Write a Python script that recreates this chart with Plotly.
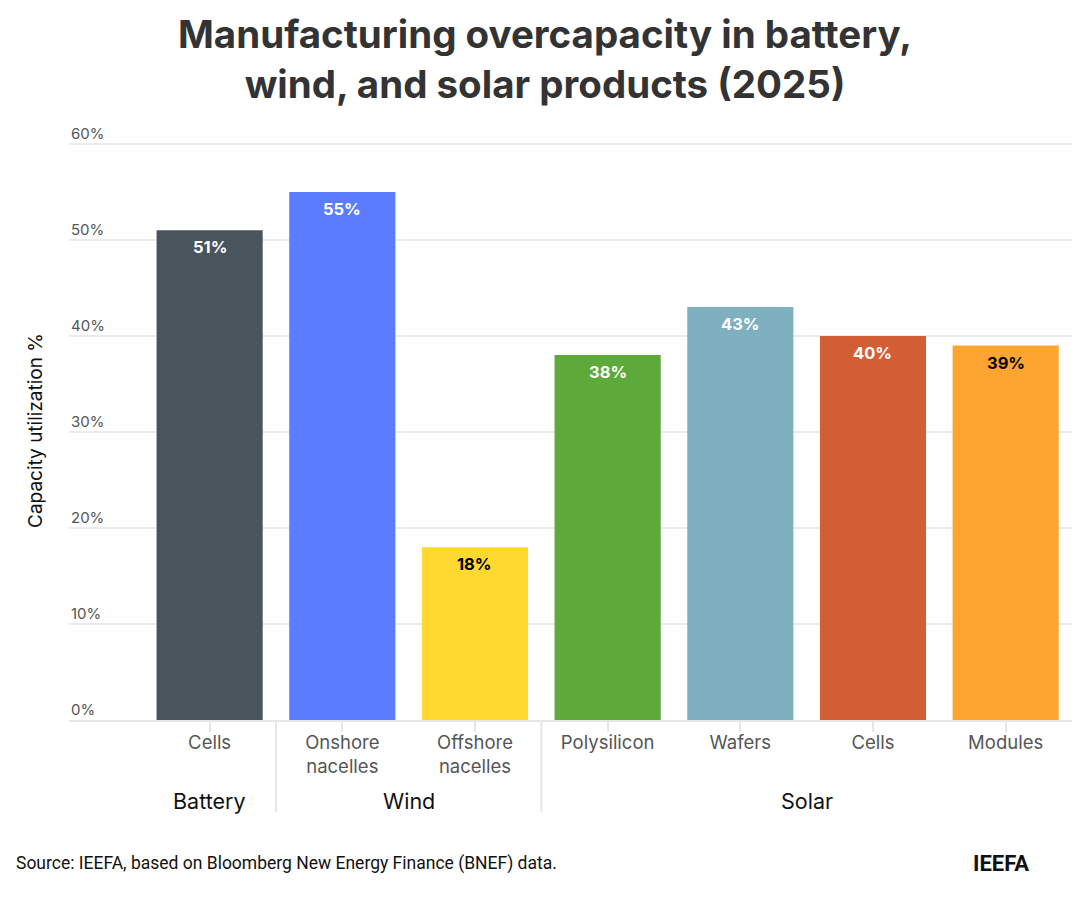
import plotly.graph_objects as go

categories = ["Cells", "Onshore<br>nacelles", "Offshore<br>nacelles", "Polysilicon", "Wafers", "Cells", "Modules"]
groups = ["Battery", "Wind", "Wind", "Solar", "Solar", "Solar", "Solar"]
values = [51, 55, 18, 38, 43, 40, 39]
colors = ["#4a545c", "#5b7cfe", "#ffd830", "#5da93a", "#7fb0c0", "#d15e35", "#fea531"]
text_colors = ["white", "white", "black", "white", "white", "white", "black"]
y_ticks = [0, 10, 20, 30, 40, 50, 60]

xpos = list(range(len(categories)))

TOP = 141
PLOT_H = 720 - TOP  # pixel height of plot area
def py(pixel_y):
    """convert page pixel y into paper fraction"""
    return (720 - pixel_y) / PLOT_H
def px(pixel_x):
    return (pixel_x - 69) / 1003

fig = go.Figure()
fig.add_trace(go.Bar(
    x=xpos, y=values, width=0.8,
    marker=dict(color=colors, line=dict(width=0)),
    hoverinfo="skip",
))

for i, v in enumerate(values):
    fig.add_annotation(x=xpos[i], y=v, xref="x", yref="y", text=f"<b>{v}%</b>",
                       showarrow=False, yanchor="middle", yshift=-17,
                       font=dict(family="Inter", size=16.5, color=text_colors[i]))

# y tick labels sitting above their gridlines
for t in y_ticks:
    fig.add_annotation(x=0, y=t, xref="paper", yref="y", text=f"{t}%",
                       showarrow=False, xanchor="left", yanchor="bottom", yshift=-1,
                       font=dict(family="Inter", size=15, color="#555555"))

fig.update_layout(
    width=1090, height=903,
    margin=dict(l=69, r=18, t=TOP, b=183),
    plot_bgcolor="white", paper_bgcolor="white",
    showlegend=False, bargap=0.2,
    font=dict(family="Inter"),
)

fig.add_annotation(xref="paper", yref="paper", x=px(545), y=py(59),
                   text="<b>Manufacturing overcapacity in battery,<br>wind, and solar products (2025)</b>",
                   showarrow=False, xanchor="center", yanchor="middle",
                   font=dict(family="Inter", size=38.5, color="#333333"))

fig.update_yaxes(
    range=[0, 60.3], tickvals=y_ticks, showticklabels=False,
    showgrid=True, gridcolor="#ebebeb", gridwidth=2, zeroline=False,
    ticks="", showline=False,
    title=dict(text="Capacity utilization %", font=dict(family="Inter", size=19, color="#111111"), standoff=20),
)
fig.update_xaxes(
    range=[-1.06, 6.5], tickvals=xpos, ticktext=categories,
    tickfont=dict(family="Inter", size=18.5, color="#555555"),
    ticks="outside", ticklen=10, tickcolor="#e6e6e6", tickwidth=2,
    ticklabelstandoff=-5,
    showline=True, linecolor="#e6e6e6", linewidth=2,
    showgrid=False, zeroline=False,
)

# group separators
for sep in [0.5, 2.5]:
    fig.add_shape(type="line", xref="x", yref="paper", x0=sep, x1=sep, y0=0, y1=py(812),
                  line=dict(color="#e6e6e6", width=2))

# group labels
group_names = []
for g in groups:
    if g not in group_names:
        group_names.append(g)
for g in group_names:
    idx = [i for i, gg in enumerate(groups) if gg == g]
    fig.add_annotation(x=sum(idx) / len(idx), y=py(801), xref="x", yref="paper",
                       text=g, showarrow=False, yanchor="middle",
                       font=dict(family="Inter", size=21.5, color="#111111"))

fig.add_annotation(xref="paper", yref="paper", x=px(14), y=py(863),
                   text="Source: IEEFA, based on Bloomberg New Energy Finance (BNEF) data.",
                   showarrow=False, xanchor="left", yanchor="middle",
                   font=dict(family="Roboto", size=17.5, color="#111111"))
fig.add_annotation(xref="paper", yref="paper", x=px(1001), y=py(863), text="<b>IEEFA</b>",
                   showarrow=False, xanchor="center", yanchor="middle",
                   font=dict(family="Roboto", size=22, color="#111111"))

fig.write_html("out.html")
